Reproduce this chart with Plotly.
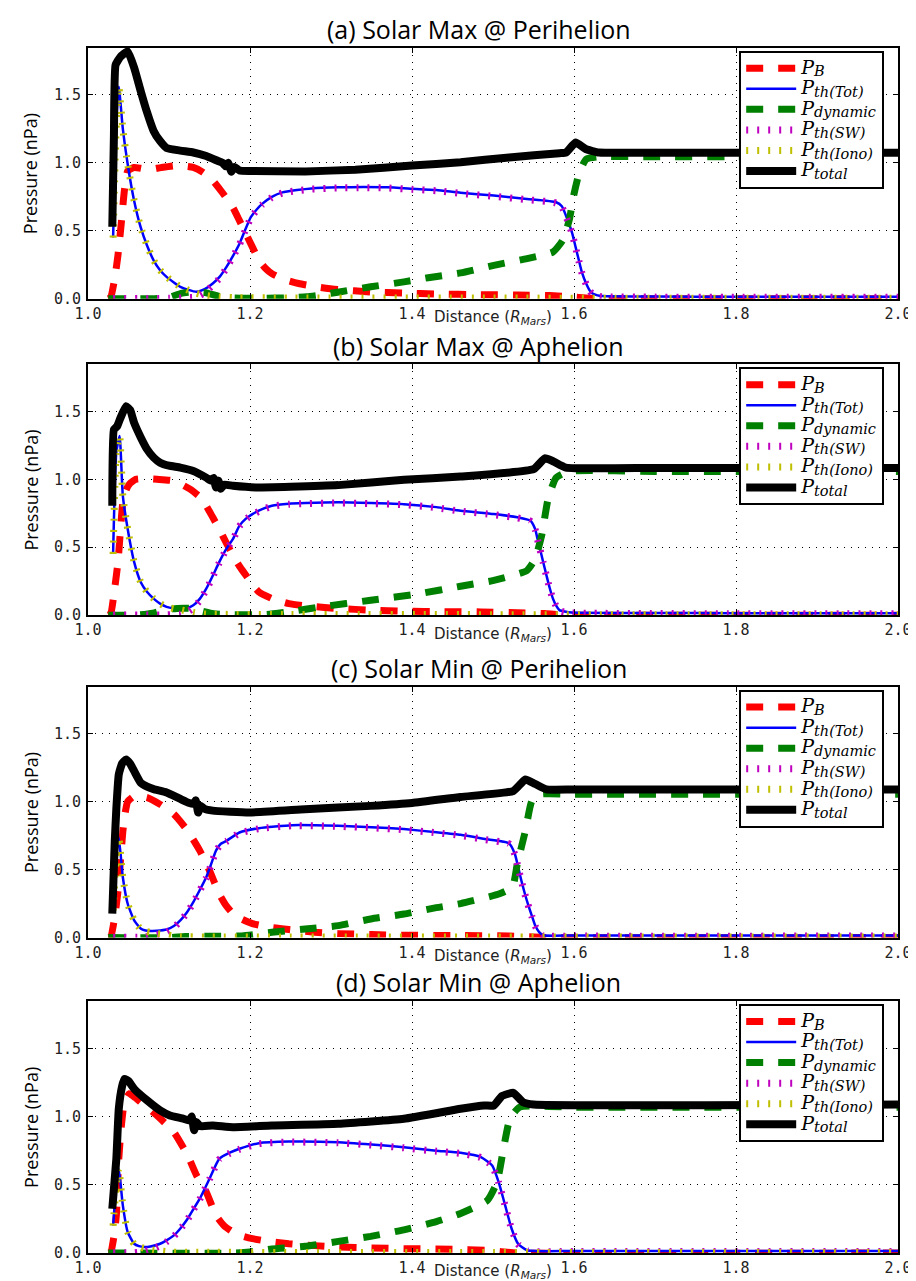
import plotly.graph_objects as go

# ---------------- data ----------------
PANEL_TITLES = ["(a) Solar Max @ Perihelion", "(b) Solar Max @ Aphelion",
                "(c) Solar Min @ Perihelion", "(d) Solar Min @ Aphelion"]
X_TICKS = [1.0, 1.2, 1.4, 1.6, 1.8, 2.0]
X_TICK_LABELS = ["1.0", "1.2", "1.4", "1.6", "1.8", "2.0"]
Y_TICKS = [0.0, 0.5, 1.0, 1.5]
Y_TICK_LABELS = ["0.0", "0.5", "1.0", "1.5"]
SERIES_SUBS = ["B", "th(Tot)", "dynamic", "th(SW)", "th(Iono)", "total"]

# ---- panel (a)
A_PB_X = [1.025, 1.028, 1.033, 1.037, 1.041, 1.045, 1.049, 1.057, 1.065, 1.075, 1.09, 1.11, 1.13, 1.142, 1.154,
          1.166, 1.179, 1.187, 1.195, 1.203, 1.211, 1.219, 1.227, 1.243, 1.26, 1.285, 1.308, 1.349, 1.39, 1.43,
          1.485, 1.53, 1.57, 1.60, 1.62, 1.70, 2.00]
A_PB = [0.0, 0.01, 0.15, 0.32, 0.55, 0.80, 0.94, 0.966, 0.96, 0.95, 0.965, 0.98, 0.966, 0.93, 0.87,
        0.78, 0.67, 0.575, 0.478, 0.38, 0.283, 0.225, 0.185, 0.14, 0.112, 0.085, 0.068, 0.05, 0.042, 0.035,
        0.03, 0.027, 0.024, 0.012, 0.003, 0.0, 0.0]
A_TOT_X = [1.031, 1.035, 1.038, 1.043, 1.049, 1.057, 1.065, 1.073, 1.081, 1.089, 1.097, 1.106, 1.114, 1.124,
           1.134, 1.144, 1.154, 1.163, 1.171, 1.179, 1.187, 1.195, 1.201, 1.208, 1.215, 1.227, 1.240, 1.258,
           1.276, 1.309, 1.34, 1.369, 1.40, 1.43, 1.46, 1.501, 1.542, 1.578, 1.585, 1.590, 1.594, 1.598, 1.602,
           1.606, 1.610, 1.615, 1.619, 1.623, 1.629, 1.635, 1.70, 1.80, 1.90, 2.00]
A_TOT = [0.45, 1.30, 1.56, 1.25, 0.99, 0.72, 0.527, 0.39, 0.283, 0.21, 0.161, 0.12, 0.088, 0.065,
         0.051, 0.07, 0.112, 0.165, 0.234, 0.315, 0.405, 0.52, 0.60, 0.655, 0.698, 0.75, 0.783, 0.80,
         0.812, 0.82, 0.822, 0.82, 0.81, 0.80, 0.78, 0.759, 0.734, 0.71, 0.68, 0.613, 0.55, 0.478, 0.38,
         0.283, 0.19, 0.112, 0.065, 0.039, 0.025, 0.02, 0.016, 0.015, 0.015, 0.015]
A_DYN_X = [1.025, 1.08, 1.10, 1.115, 1.13, 1.145, 1.16, 1.18, 1.22, 1.25, 1.27, 1.29, 1.31, 1.349, 1.39, 1.42,
           1.46, 1.501, 1.542, 1.574, 1.586, 1.594, 1.600, 1.606, 1.615, 1.631, 1.70, 1.80, 2.00]
A_DYN = [0.0, 0.0, 0.01, 0.04, 0.05, 0.045, 0.02, 0.005, 0.003, 0.008, 0.015, 0.03, 0.05, 0.088, 0.124, 0.155,
         0.19, 0.246, 0.295, 0.344, 0.43, 0.576, 0.77, 0.917, 1.027, 1.045, 1.045, 1.045, 1.045]
A_SW_X = [1.031, 1.10, 1.124, 1.134, 1.144, 1.154, 1.163, 1.171, 1.179, 1.187, 1.195, 1.201, 1.208, 1.215,
          1.227, 1.240, 1.258, 1.276, 1.309, 1.34, 1.369, 1.40, 1.43, 1.46, 1.501, 1.542, 1.578, 1.585, 1.590,
          1.594, 1.598, 1.602, 1.606, 1.610, 1.615, 1.619, 1.623, 1.629, 1.635, 1.70, 1.80, 1.90, 2.00]
A_SW = [0.002, 0.003, 0.008, 0.012, 0.045, 0.1, 0.155, 0.228, 0.31, 0.4, 0.515, 0.595, 0.65, 0.693,
        0.745, 0.778, 0.795, 0.807, 0.815, 0.817, 0.815, 0.805, 0.795, 0.775, 0.754, 0.729, 0.705, 0.675, 0.608,
        0.545, 0.473, 0.375, 0.278, 0.185, 0.107, 0.06, 0.034, 0.02, 0.015, 0.012, 0.011, 0.011, 0.011]
A_IONO_X = [1.031, 1.035, 1.038, 1.043, 1.049, 1.057, 1.065, 1.073, 1.081, 1.089, 1.097, 1.106, 1.114, 1.124,
            1.134, 1.144, 1.154, 1.163, 1.18, 1.25, 1.5, 1.65, 2.0]
A_IONO = [0.45, 1.30, 1.56, 1.25, 0.99, 0.72, 0.527, 0.39, 0.283, 0.21, 0.161, 0.12, 0.088, 0.062,
          0.04, 0.025, 0.018, 0.013, 0.008, 0.006, 0.005, 0.004, 0.004]
A_TOTAL_X = [1.030, 1.032, 1.034, 1.040, 1.049, 1.057, 1.065, 1.073, 1.081, 1.089, 1.097, 1.114, 1.130, 1.146,
             1.160, 1.166, 1.170, 1.173, 1.177, 1.181, 1.187, 1.20, 1.268, 1.33, 1.40, 1.46, 1.52, 1.582, 1.590,
             1.602, 1.615, 1.631, 1.70, 2.00]
A_TOTAL = [0.53, 1.2, 1.72, 1.78, 1.82, 1.70, 1.53, 1.37, 1.235, 1.16, 1.11, 1.09, 1.076, 1.05,
           1.015, 1.0, 0.975, 1.0, 0.935, 0.97, 0.944, 0.94, 0.937, 0.95, 0.98, 1.005, 1.04, 1.071, 1.075,
           1.149, 1.10, 1.076, 1.075, 1.075]

# ---- panel (b)
B_PB_X = [1.025, 1.028, 1.033, 1.037, 1.040, 1.043, 1.047, 1.051, 1.059, 1.07, 1.085, 1.106, 1.126, 1.138, 1.146,
          1.154, 1.162, 1.170, 1.179, 1.187, 1.195, 1.203, 1.211, 1.228, 1.248, 1.275, 1.309, 1.35, 1.39, 1.44,
          1.485, 1.53, 1.563, 1.58, 1.60, 2.00]
B_PB = [0.0, 0.01, 0.2, 0.39, 0.62, 0.83, 0.92, 0.964, 1.0, 1.005, 1.0, 0.988, 0.927, 0.87, 0.805,
        0.72, 0.634, 0.54, 0.439, 0.36, 0.293, 0.225, 0.171, 0.12, 0.085, 0.065, 0.049, 0.037, 0.029, 0.026,
        0.024, 0.018, 0.012, 0.004, 0.0, 0.0]
B_TOT_X = [1.031, 1.035, 1.039, 1.043, 1.049, 1.057, 1.065, 1.073, 1.081, 1.089, 1.097, 1.106, 1.114, 1.122,
           1.130, 1.138, 1.146, 1.154, 1.162, 1.170, 1.179, 1.187, 1.195, 1.203, 1.215, 1.227, 1.248, 1.268,
           1.309, 1.35, 1.39, 1.43, 1.46, 1.501, 1.530, 1.546, 1.552, 1.555, 1.558, 1.562, 1.566, 1.570, 1.574,
           1.578, 1.582, 1.590, 1.597, 1.70, 1.80, 2.00]
B_TOT = [0.45, 1.20, 1.318, 0.878, 0.634, 0.39, 0.244, 0.17, 0.122, 0.085, 0.061, 0.05, 0.046, 0.052,
         0.073, 0.12, 0.195, 0.29, 0.39, 0.48, 0.561, 0.659, 0.71, 0.744, 0.78, 0.805, 0.82, 0.825,
         0.83, 0.825, 0.817, 0.795, 0.769, 0.744, 0.72, 0.696, 0.634, 0.56, 0.488, 0.39, 0.293, 0.2, 0.122,
         0.07, 0.037, 0.025, 0.02, 0.016, 0.015, 0.015]
B_DYN_X = [1.025, 1.06, 1.08, 1.095, 1.11, 1.125, 1.14, 1.155, 1.18, 1.22, 1.248, 1.288, 1.349, 1.41, 1.46,
           1.501, 1.542, 1.552, 1.560, 1.568, 1.578, 1.594, 1.70, 2.00]
B_DYN = [0.0, 0.0, 0.015, 0.04, 0.05, 0.05, 0.03, 0.01, 0.004, 0.005, 0.025, 0.061, 0.110, 0.159, 0.213,
         0.256, 0.329, 0.415, 0.585, 0.854, 1.013, 1.058, 1.058, 1.058]
B_SW_X = [1.031, 1.097, 1.106, 1.114, 1.122, 1.130, 1.138, 1.146, 1.154, 1.162, 1.170, 1.179, 1.187, 1.195,
          1.203, 1.215, 1.227, 1.248, 1.268, 1.309, 1.35, 1.39, 1.43, 1.46, 1.501, 1.530, 1.546, 1.552, 1.555,
          1.558, 1.562, 1.566, 1.570, 1.574, 1.578, 1.582, 1.590, 1.597, 1.70, 1.80, 2.00]
B_SW = [0.002, 0.002, 0.005, 0.008, 0.022, 0.053, 0.108, 0.187, 0.284, 0.385, 0.476, 0.557, 0.655, 0.706,
        0.74, 0.776, 0.801, 0.816, 0.821, 0.826, 0.821, 0.813, 0.791, 0.765, 0.74, 0.716, 0.692, 0.63, 0.556,
        0.484, 0.386, 0.289, 0.196, 0.118, 0.066, 0.033, 0.021, 0.016, 0.012, 0.011, 0.011]
B_IONO_X = [1.031, 1.035, 1.039, 1.043, 1.049, 1.057, 1.065, 1.073, 1.081, 1.089, 1.097, 1.106, 1.114, 1.122,
            1.130, 1.138, 1.146, 1.17, 1.25, 1.5, 1.65, 2.0]
B_IONO = [0.45, 1.20, 1.318, 0.878, 0.634, 0.39, 0.244, 0.17, 0.122, 0.085, 0.061, 0.048, 0.04, 0.03,
          0.02, 0.012, 0.008, 0.006, 0.005, 0.004, 0.004, 0.004]
B_TOTAL_X = [1.030, 1.032, 1.036, 1.040, 1.047, 1.052, 1.057, 1.065, 1.073, 1.081, 1.089, 1.100, 1.114, 1.130,
             1.146, 1.152, 1.155, 1.158, 1.161, 1.164, 1.168, 1.179, 1.207, 1.25, 1.309, 1.39, 1.46, 1.550,
             1.564, 1.575, 1.590, 1.70, 2.00]
B_TOTAL = [0.805, 1.366, 1.39, 1.45, 1.537, 1.51, 1.415, 1.31, 1.22, 1.16, 1.122, 1.10, 1.086, 1.061,
           1.012, 0.99, 1.01, 0.94, 0.99, 0.93, 0.96, 0.952, 0.940, 0.945, 0.957, 0.996, 1.02, 1.074,
           1.154, 1.13, 1.086, 1.083, 1.083]

# ---- panel (c)
C_PB_X = [1.025, 1.028, 1.033, 1.037, 1.040, 1.043, 1.046, 1.049, 1.057, 1.073, 1.089, 1.106, 1.123, 1.138, 1.150,
          1.162, 1.170, 1.179, 1.190, 1.203, 1.225, 1.248, 1.28, 1.309, 1.35, 1.39, 1.45, 1.52, 1.55, 1.57, 2.00]
C_PB = [0.0, 0.005, 0.15, 0.34, 0.56, 0.78, 0.92, 1.0, 1.04, 1.03, 0.98, 0.908, 0.786, 0.64, 0.493,
        0.322, 0.24, 0.176, 0.135, 0.103, 0.075, 0.059, 0.04, 0.029, 0.022, 0.017, 0.015, 0.012, 0.004, 0.0, 0.0]
C_TOT_X = [1.031, 1.035, 1.038, 1.043, 1.049, 1.057, 1.065, 1.071, 1.077, 1.085, 1.097, 1.106, 1.114, 1.122,
           1.130, 1.138, 1.146, 1.152, 1.158, 1.164, 1.171, 1.187, 1.211, 1.252, 1.309, 1.35, 1.39, 1.43, 1.46,
           1.49, 1.520, 1.527, 1.531, 1.535, 1.539, 1.543, 1.548, 1.552, 1.557, 1.562, 1.60, 2.00]
C_TOT = [0.2, 0.6, 0.737, 0.444, 0.249, 0.127, 0.066, 0.052, 0.049, 0.05, 0.059, 0.085, 0.127, 0.185,
         0.261, 0.35, 0.444, 0.54, 0.64, 0.69, 0.712, 0.773, 0.805, 0.827, 0.822, 0.812, 0.798, 0.775, 0.756,
         0.725, 0.693, 0.615, 0.52, 0.42, 0.33, 0.249, 0.16, 0.09, 0.04, 0.017, 0.015, 0.015]
C_DYN_X = [1.025, 1.10, 1.12, 1.16, 1.19, 1.227, 1.268, 1.309, 1.349, 1.39, 1.43, 1.46, 1.508, 1.524, 1.530,
           1.540, 1.548, 1.558, 1.60, 2.00]
C_DYN = [0.0, 0.0, 0.008, 0.01, 0.012, 0.039, 0.063, 0.088, 0.137, 0.173, 0.22, 0.25, 0.322, 0.371, 0.542,
         0.786, 1.005, 1.054, 1.055, 1.055]
C_SW_X = [1.031, 1.065, 1.071, 1.077, 1.085, 1.097, 1.106, 1.114, 1.122, 1.130, 1.138, 1.146, 1.152, 1.158,
          1.164, 1.171, 1.187, 1.211, 1.252, 1.309, 1.35, 1.39, 1.43, 1.46, 1.49, 1.520, 1.527, 1.531, 1.535,
          1.539, 1.543, 1.548, 1.552, 1.557, 1.562, 1.60, 2.00]
C_SW = [0.002, 0.002, 0.005, 0.01, 0.02, 0.039, 0.075, 0.121, 0.18, 0.256, 0.346, 0.44, 0.536, 0.636,
        0.686, 0.708, 0.769, 0.801, 0.823, 0.818, 0.808, 0.794, 0.771, 0.752, 0.721, 0.689, 0.611, 0.516, 0.416,
        0.326, 0.245, 0.156, 0.086, 0.036, 0.013, 0.011, 0.011]
C_IONO_X = [1.031, 1.035, 1.038, 1.043, 1.049, 1.057, 1.065, 1.071, 1.077, 1.085, 1.097, 1.106, 1.114, 1.15,
            1.25, 1.5, 2.0]
C_IONO = [0.2, 0.6, 0.737, 0.444, 0.249, 0.127, 0.064, 0.047, 0.039, 0.03, 0.02, 0.01, 0.006, 0.005,
          0.004, 0.004, 0.004]
C_TOTAL_X = [1.030, 1.033, 1.035, 1.038, 1.042, 1.047, 1.052, 1.057, 1.065, 1.073, 1.081, 1.097, 1.114, 1.125,
             1.130, 1.133, 1.136, 1.139, 1.143, 1.154, 1.199, 1.268, 1.349, 1.40, 1.46, 1.525, 1.540, 1.552,
             1.566, 1.60, 2.00]
C_TOTAL = [0.176, 0.7, 0.95, 1.20, 1.28, 1.31, 1.28, 1.225, 1.14, 1.11, 1.092, 1.068, 1.02, 0.99,
           0.985, 1.01, 0.92, 0.97, 0.95, 0.934, 0.92, 0.944, 0.969, 0.99, 1.035, 1.078, 1.164, 1.13,
           1.09, 1.09, 1.09]

# ---- panel (d)
D_PB_X = [1.025, 1.028, 1.032, 1.035, 1.038, 1.041, 1.045, 1.051, 1.058, 1.065, 1.085, 1.106, 1.123, 1.134, 1.146,
          1.158, 1.168, 1.179, 1.190, 1.203, 1.225, 1.248, 1.28, 1.309, 1.35, 1.39, 1.45, 1.49, 1.51, 1.53, 2.00]
D_PB = [0.0, 0.005, 0.12, 0.276, 0.69, 0.92, 1.106, 1.167, 1.14, 1.106, 1.008, 0.886, 0.715, 0.569, 0.447,
        0.276, 0.2, 0.154, 0.125, 0.105, 0.083, 0.068, 0.054, 0.044, 0.037, 0.032, 0.028, 0.02, 0.01, 0.0, 0.0]
D_TOT_X = [1.031, 1.035, 1.038, 1.043, 1.049, 1.057, 1.063, 1.069, 1.077, 1.089, 1.097, 1.106, 1.114, 1.123,
           1.130, 1.138, 1.150, 1.162, 1.175, 1.187, 1.211, 1.248, 1.309, 1.35, 1.39, 1.43, 1.46, 1.485, 1.499,
           1.507, 1.515, 1.523, 1.531, 1.542, 1.60, 2.00]
D_TOT = [0.2, 0.5, 0.617, 0.349, 0.154, 0.068, 0.05, 0.044, 0.048, 0.068, 0.093, 0.129, 0.18, 0.251,
         0.32, 0.398, 0.544, 0.69, 0.735, 0.764, 0.805, 0.817, 0.812, 0.795, 0.775, 0.75, 0.734, 0.703, 0.642,
         0.52, 0.349, 0.178, 0.068, 0.02, 0.015, 0.015]
D_DYN_X = [1.025, 1.18, 1.20, 1.227, 1.268, 1.309, 1.349, 1.39, 1.43, 1.46, 1.493, 1.505, 1.513, 1.521, 1.533,
           1.60, 2.00]
D_DYN = [0.0, 0.0, 0.008, 0.03, 0.049, 0.085, 0.122, 0.17, 0.23, 0.29, 0.385, 0.52, 0.766, 0.985, 1.069,
         1.069, 1.069]
D_SW_X = [1.031, 1.057, 1.063, 1.069, 1.077, 1.089, 1.097, 1.106, 1.114, 1.123, 1.130, 1.138, 1.150, 1.162,
          1.175, 1.187, 1.211, 1.248, 1.309, 1.35, 1.39, 1.43, 1.46, 1.485, 1.499, 1.507, 1.515, 1.523, 1.531,
          1.542, 1.60, 2.00]
D_SW = [0.002, 0.002, 0.005, 0.009, 0.023, 0.053, 0.083, 0.123, 0.176, 0.247, 0.316, 0.394, 0.54, 0.686,
        0.731, 0.76, 0.801, 0.813, 0.808, 0.791, 0.771, 0.746, 0.73, 0.699, 0.638, 0.516, 0.345, 0.174, 0.064,
        0.016, 0.011, 0.011]
D_IONO_X = [1.031, 1.035, 1.038, 1.043, 1.049, 1.057, 1.063, 1.069, 1.077, 1.089, 1.097, 1.106, 1.15, 1.25,
            1.5, 2.0]
D_IONO = [0.2, 0.5, 0.617, 0.349, 0.154, 0.066, 0.045, 0.035, 0.025, 0.015, 0.01, 0.006, 0.005, 0.004,
          0.004, 0.004]
D_TOTAL_X = [1.030, 1.035, 1.038, 1.042, 1.045, 1.050, 1.057, 1.073, 1.089, 1.101, 1.118, 1.125, 1.128, 1.131,
             1.134, 1.138, 1.154, 1.179, 1.227, 1.309, 1.39, 1.46, 1.489, 1.501, 1.511, 1.525, 1.537, 1.55, 2.00]
D_TOTAL = [0.324, 0.69, 1.057, 1.22, 1.276, 1.26, 1.203, 1.118, 1.045, 1.008, 0.984, 0.97, 1.0, 0.9,
           0.96, 0.93, 0.934, 0.922, 0.934, 0.947, 0.984, 1.057, 1.081, 1.081, 1.15, 1.174, 1.105, 1.088, 1.088]

PANELS = [
    (A_PB_X, A_PB, A_TOT_X, A_TOT, A_DYN_X, A_DYN, A_SW_X, A_SW, A_IONO_X, A_IONO, A_TOTAL_X, A_TOTAL),
    (B_PB_X, B_PB, B_TOT_X, B_TOT, B_DYN_X, B_DYN, B_SW_X, B_SW, B_IONO_X, B_IONO, B_TOTAL_X, B_TOTAL),
    (C_PB_X, C_PB, C_TOT_X, C_TOT, C_DYN_X, C_DYN, C_SW_X, C_SW, C_IONO_X, C_IONO, C_TOTAL_X, C_TOTAL),
    (D_PB_X, D_PB, D_TOT_X, D_TOT, D_DYN_X, D_DYN, D_SW_X, D_SW, D_IONO_X, D_IONO, D_TOTAL_X, D_TOTAL),
]

# ---------------- styles / layout ----------------
W, H = 916, 1281
ML, MR, MT, MB = 80, 15, 40, 30
PW, PH = W - ML - MR, H - MT - MB
PANEL_PX = [(40, 292), (358, 610), (682, 934), (998, 1251)]  # top, bottom in page pixels

STYLES = [
    dict(color="#ff0000", width=7, dash="17px,15px", shape="spline", smoothing=0.5),
    dict(color="#0000ff", width=2.5, shape="spline", smoothing=0.5),
    dict(color="#008000", width=7, dash="17px,15px", shape="spline", smoothing=0.5),
    dict(color="#bf00bf", width=7, dash="2px,9px", shape="spline", smoothing=0.5),
    dict(color="#bfbf00", width=7, dash="2px,9px", shape="spline", smoothing=0.5),
    dict(color="#000000", width=8, shape="spline", smoothing=0.4),
]


def legend_name(sub):
    return ("<span style='font-size:19px'><i>P</i></span>"
            "<sub><span style='font-size:14.5px'><i>" + sub + "</i></span></sub>")


def py2paper(py):
    return (H - MB - py) / PH


def px2paper(px):
    return (px - ML) / PW


fig = go.Figure()
annotations = []
for i, data in enumerate(PANELS):
    n = "" if i == 0 else str(i + 1)
    leg = "legend" if i == 0 else "legend" + str(i + 1)
    for k in range(6):
        fig.add_trace(go.Scatter(
            x=data[2 * k], y=data[2 * k + 1], mode="lines", name=legend_name(SERIES_SUBS[k]),
            line=STYLES[k], xaxis="x" + n, yaxis="y" + n, legend=leg, hoverinfo="skip"))
    top, bot = PANEL_PX[i]
    dom = [py2paper(bot), py2paper(top)]
    axcommon = dict(showline=True, linewidth=2, linecolor="black", mirror="ticks",
                    ticks="inside", ticklen=5, tickwidth=1, tickcolor="black",
                    showgrid=True, gridcolor="black", gridwidth=1, griddash="1px,6px",
                    zeroline=False,
                    tickfont=dict(family="DejaVu Sans Mono", size=15, color="#222"))
    fig.layout["xaxis" + n] = dict(axcommon, domain=[0, 1], anchor="y" + n, range=[1.0, 2.0],
                                   tickvals=X_TICKS, ticktext=X_TICK_LABELS)
    fig.layout["yaxis" + n] = dict(axcommon, domain=dom, anchor="x" + n, range=[0, 1.845],
                                   tickvals=Y_TICKS, ticktext=Y_TICK_LABELS, ticklabelstandoff=2)
    fig.layout[leg] = dict(x=px2paper(887), xanchor="right", y=py2paper(top + 3), yanchor="top",
                           bgcolor="white", bordercolor="black", borderwidth=2,
                           font=dict(family="DejaVu Serif", size=13.5, color="black"),
                           itemwidth=50, tracegroupgap=0)
    annotations.append(dict(text=PANEL_TITLES[i], x=px2paper(476), y=py2paper(top - 19),
                            xref="paper", yref="paper", showarrow=False, xanchor="center", yanchor="middle",
                            font=dict(family="Open Sans", size=25, color="black")))
    annotations.append(dict(text="Distance (<i>R</i><sub><i>Mars</i></sub>)", x=px2paper(490),
                            y=py2paper(bot + 19), xref="paper", yref="paper", showarrow=False,
                            xanchor="center", yanchor="middle",
                            font=dict(family="DejaVu Sans", size=15, color="#222")))
    annotations.append(dict(text="Pressure (nPa)", x=px2paper(22), y=py2paper((top + bot) / 2),
                            xref="paper", yref="paper", showarrow=False, textangle=-90,
                            xanchor="center", yanchor="middle",
                            font=dict(family="Open Sans", size=18, color="black")))

fig.update_layout(width=W, height=H, autosize=False,
                  margin=dict(l=ML, r=MR, t=MT, b=MB),
                  paper_bgcolor="white", plot_bgcolor="white",
                  annotations=annotations, showlegend=True)

fig.write_html("out.html")
